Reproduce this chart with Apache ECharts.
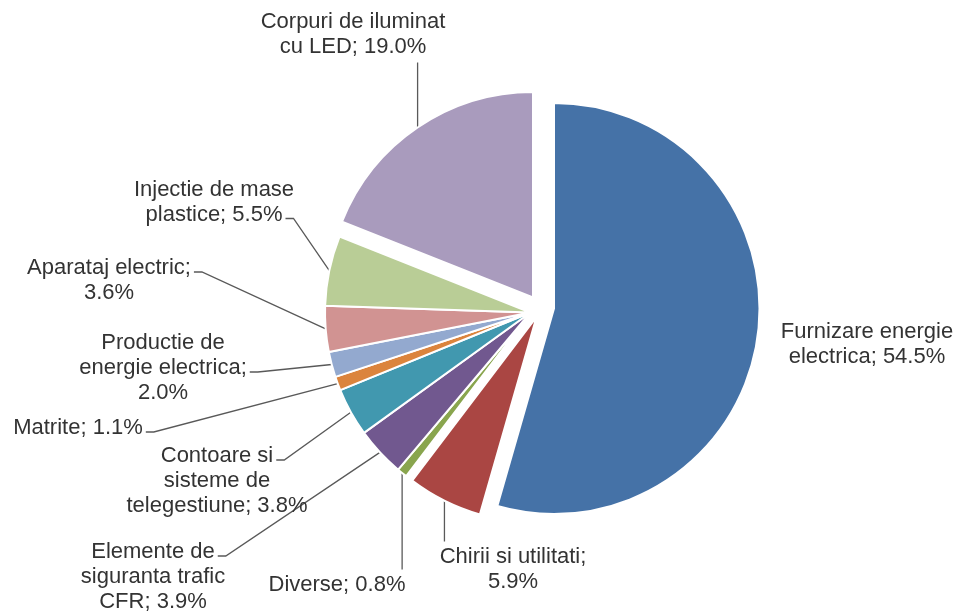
<!DOCTYPE html>
<html>
<head>
<meta charset="utf-8">
<script src="https://cdn.jsdelivr.net/npm/echarts@6/dist/echarts.min.js"></script>
<style>
  html, body { margin: 0; padding: 0; background: #fff; }
  #chart { width: 959px; height: 615px; }
</style>
</head>
<body>
<div id="chart"></div>
<script>
// date
const names = [
  'Furnizare energie\nelectrica',
  'Chirii si utilitati',
  'Diverse',
  'Elemente de\nsiguranta trafic\nCFR',
  'Contoare si\nsisteme de\ntelegestiune',
  'Matrite',
  'Productie de\nenergie electrica',
  'Aparataj electric',
  'Injectie de mase\nplastice',
  'Corpuri de iluminat\ncu LED'
];
const values = [54.5, 5.9, 0.8, 3.9, 3.8, 1.1, 2.0, 3.6, 5.5, 19.0];
// procentul trece pe randul urmator
const valueOnNewLine = [false, true, false, false, false, false, true, true, false, false];

const colors = ['#4572A7', '#AA4643', '#89A54E', '#71588F', '#4198AF',
                '#DB843D', '#93A9CF', '#D19392', '#B9CD96', '#A99BBD'];

// centrul placintei si al feliilor scoase in afara
const baseCenter = [530.5, 312.5];
const explodedCenters = { 0: [554, 308.5], 1: [536.5, 317], 9: [533, 297.5] };
const radius = 205.5;

const FONT_SIZE = 22;
const LINE_H = 25;
const FONT_FAMILY = '"Liberation Sans", Arial, sans-serif';

// pozitia etichetelor (centrul blocului) si unde se prinde linia
const labelLayouts = [
  { x: 867, y: 344.5, hook: 'none' },
  { x: 513, y: 569.5, hook: 'top' },
  { x: 337, y: 585, hook: 'top' },
  { x: 153, y: 577, hook: 'right', line: 0 },
  { x: 217, y: 481, hook: 'right', line: 0 },
  { x: 78, y: 428, hook: 'right', line: 0 },
  { x: 163, y: 368, hook: 'right', line: 1 },
  { x: 109, y: 280.5, hook: 'right', line: 0 },
  { x: 214, y: 202, hook: 'right', line: 1 },
  { x: 353, y: 34.5, hook: 'bottom' }
];

const labelText = i =>
  names[i] + ';' + (valueOnNewLine[i] ? '\n' : ' ') + values[i].toFixed(1) + '%';

const sliceCenter = i => explodedCenters[i] || baseCenter;

const measureCtx = document.createElement('canvas').getContext('2d');
measureCtx.font = FONT_SIZE + 'px ' + FONT_FAMILY;

const total = values.reduce((a, b) => a + b, 0);
// punct pe arc la mijlocul feliei (rezerva daca lipseste labelLinePoints)
const arcPoint = i => {
  let cum = 0;
  for (let k = 0; k < i; k++) cum += values[k];
  const t = (cum + values[i] / 2) / total * Math.PI * 2;
  const c = sliceCenter(i);
  return [c[0] + radius * Math.sin(t), c[1] - radius * Math.cos(t)];
};

const layoutLabel = params => {
  const i = params.dataIndex;
  const L = labelLayouts[i];
  const res = { x: L.x, y: L.y, align: 'center', verticalAlign: 'middle' };
  if (L.hook === 'none') return res;

  const lines = labelText(i).split('\n');
  const top = L.y - lines.length * LINE_H / 2;
  const bottom = top + lines.length * LINE_H;
  const p0 = (params.labelLinePoints && params.labelLinePoints[0]) || arcPoint(i);
  let pts;
  if (L.hook === 'right') {
    const w = measureCtx.measureText(lines[L.line]).width;
    const ly = top + LINE_H * (L.line + 0.5) + 4;
    const lx = L.x + w / 2 + 3;
    pts = [p0, [lx + 8, ly], [lx, ly]];
  } else if (L.hook === 'top') {
    pts = [p0, [p0[0], (p0[1] + top - 3) / 2], [p0[0], top - 3]];
  } else {
    pts = [p0, [p0[0], (p0[1] + bottom + 3) / 2], [p0[0], bottom + 3]];
  }
  res.labelLinePoints = pts;
  return res;
};

// o serie pentru placinta de baza si cate una pentru fiecare felie scoasa
const groups = [baseCenter].concat(Object.values(explodedCenters));

const chart = echarts.init(document.getElementById('chart'));

chart.setOption({
  backgroundColor: '#fff',
  animation: false,
  series: groups.map(c => ({
    type: 'pie',
    center: c,
    radius: radius,
    startAngle: 90,
    clockwise: true,
    silent: true,
    avoidLabelOverlap: false,
    label: {
      color: '#333',
      fontSize: FONT_SIZE,
      lineHeight: LINE_H,
      fontFamily: FONT_FAMILY,
      formatter: p => labelText(p.dataIndex)
    },
    labelLine: {
      show: true,
      lineStyle: { color: '#595959', width: 1.3 }
    },
    labelLayout: layoutLabel,
    data: values.map((v, i) => {
      const on = sliceCenter(i) === c;
      return {
        name: names[i],
        value: v,
        itemStyle: on
          ? { color: colors[i], borderColor: '#fff', borderWidth: 2 }
          : { color: 'rgba(0,0,0,0)', borderWidth: 0 },
        label: { show: on },
        labelLine: { show: on && labelLayouts[i].hook !== 'none' }
      };
    })
  }))
});

window.addEventListener('resize', () => chart.resize());
</script>
</body>
</html>
